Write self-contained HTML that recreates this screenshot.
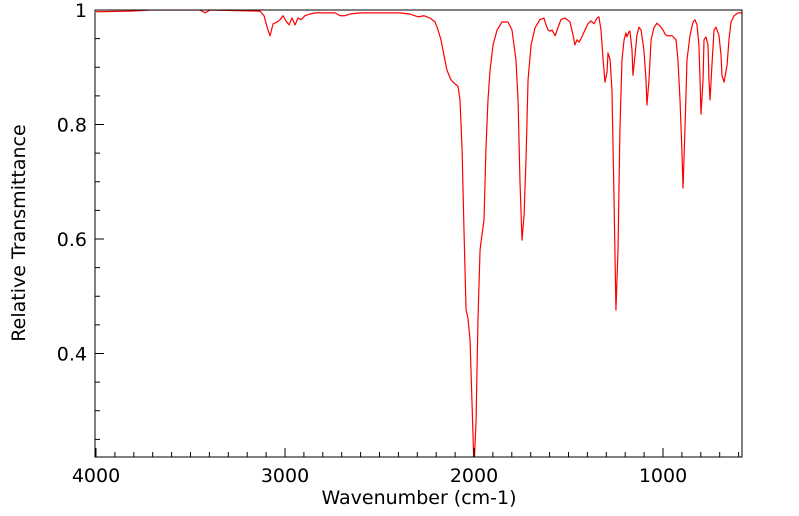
<!DOCTYPE html>
<html><head><meta charset="utf-8"><style>
body{margin:0;background:#fff;width:799px;height:516px;overflow:hidden}
svg{display:block}
text{font-family:"DejaVu Sans","Liberation Sans",sans-serif;fill:#000}
</style></head><body>
<svg id="chart" width="799" height="516" viewBox="0 0 799 516"></svg>
<script>
const wavenumbers=[4000,3820,3714,3450,3423,3397,3132,3111,3090,3079,3063,3042,3026,3011,2995,2979,2963,2947,2931,2915,2894,2868,2841,2735,2709,2683,2656,2603,2392,2339,2296,2265,2233,2206,2190,2175,2159,2143,2122,2101,2085,2074,2063,2053,2042,2032,2021,2011,2000,1989,1979,1968,1958,1947,1937,1926,1915,1899,1878,1852,1820,1799,1778,1767,1757,1746,1735,1725,1714,1698,1677,1651,1630,1619,1608,1598,1587,1571,1556,1540,1519,1492,1476,1466,1455,1444,1429,1413,1397,1381,1365,1349,1339,1328,1317,1307,1296,1291,1280,1270,1259,1249,1238,1228,1217,1206,1196,1191,1180,1175,1164,1159,1148,1138,1127,1116,1101,1090,1085,1074,1063,1048,1032,1016,1000,989,979,952,931,921,910,900,894,884,873,857,841,831,820,810,804,799,788,783,773,762,757,751,741,730,720,704,693,688,677,661,651,640,624,603,582];
const transmittance=[0.997,0.998,1.000,1.000,0.995,1.000,0.998,0.990,0.965,0.955,0.976,0.979,0.983,0.990,0.981,0.974,0.986,0.974,0.986,0.983,0.990,0.993,0.995,0.995,0.990,0.990,0.993,0.995,0.995,0.993,0.988,0.990,0.986,0.979,0.965,0.948,0.921,0.895,0.878,0.871,0.867,0.843,0.755,0.616,0.476,0.462,0.424,0.319,0.200,0.284,0.459,0.581,0.607,0.633,0.755,0.843,0.895,0.939,0.965,0.979,0.979,0.965,0.913,0.843,0.703,0.598,0.642,0.738,0.878,0.939,0.969,0.983,0.986,0.974,0.965,0.963,0.965,0.955,0.969,0.983,0.986,0.979,0.956,0.939,0.948,0.944,0.953,0.965,0.976,0.981,0.976,0.986,0.988,0.965,0.913,0.874,0.892,0.925,0.913,0.860,0.668,0.476,0.581,0.790,0.913,0.948,0.960,0.953,0.962,0.963,0.930,0.886,0.921,0.956,0.970,0.965,0.930,0.878,0.834,0.878,0.948,0.969,0.977,0.972,0.965,0.958,0.955,0.955,0.948,0.913,0.843,0.755,0.689,0.790,0.913,0.956,0.979,0.983,0.974,0.939,0.878,0.818,0.878,0.948,0.953,0.939,0.878,0.843,0.904,0.965,0.970,0.956,0.921,0.886,0.874,0.904,0.948,0.979,0.990,0.995,0.995];
const xTicksMajor=[4000,3000,2000,1000];
const yTicksMajor=[1,0.8,0.6,0.4];
const NS="http://www.w3.org/2000/svg";
const svg=document.getElementById('chart');
const L=95,R=742,T=10,B=457;
const SX=0.189;
const xMax=4000,xMin=4000-(R-96)/SX;
const yTop=1,yBot=1-(B-T)/572.5;
function xs(v){return 96+(xMax-v)*SX;}
function ys(v){return T+(yTop-v)*572.5;}
function mk(tag,attrs){const e=document.createElementNS(NS,tag);for(const k in attrs)e.setAttribute(k,attrs[k]);svg.appendChild(e);return e;}
const defs=mk('defs',{});
const cp=document.createElementNS(NS,'clipPath');cp.setAttribute('id','plotclip');
const cr=document.createElementNS(NS,'rect');cr.setAttribute('x',L);cr.setAttribute('y',T);cr.setAttribute('width',R-L);cr.setAttribute('height',B-T);
cp.appendChild(cr);defs.appendChild(cp);
let d='';
for(let i=0;i<wavenumbers.length;i++){d+=(i?'L':'M')+xs(wavenumbers[i]).toFixed(2)+','+ys(transmittance[i]).toFixed(2);}
const line=mk('path',{d:d,fill:'none',stroke:'#ff0000','stroke-width':'1.2','stroke-linejoin':'round','clip-path':'url(#plotclip)'});


const frame=mk('rect',{x:L,y:T,width:R-L,height:B-T,fill:'none',stroke:'#000','stroke-width':'1'});


for(let v=4000;v>xMin;v-=100){
  const x=xs(v);const major=v%1000===0;
  const t=mk('line',{x1:x,x2:x,y1:B,y2:B-(major?9:5),stroke:'#000','stroke-width':'1'});
  
  
}
xTicksMajor.forEach(v=>{
  const t=mk('text',{x:xs(v),y:B+25,'text-anchor':'middle','font-size':'19'});
  t.textContent=String(v);
  
  
});
for(let k=0;k<20;k++){
  const v=1-k*0.05;if(v<yBot)break;
  const y=ys(v);const major=k%4===0;
  const t=mk('line',{x1:L,x2:L+(major?9:5),y1:y,y2:y,stroke:'#000','stroke-width':'1'});
  
  
}
yTicksMajor.forEach(v=>{
  const t=mk('text',{x:L-8,y:ys(v)+7,'text-anchor':'end','font-size':'19'});
  t.textContent=v===1?'1':v.toFixed(1);
  
  
});
const xl=mk('text',{x:419,y:504,'text-anchor':'middle','font-size':'19'});
xl.textContent='Wavenumber (cm-1)';


const yl=mk('text',{x:0,y:0,'text-anchor':'middle','font-size':'19',transform:'translate(25,233) rotate(-90)'});
yl.textContent='Relative Transmittance';


</script>
</body></html>
